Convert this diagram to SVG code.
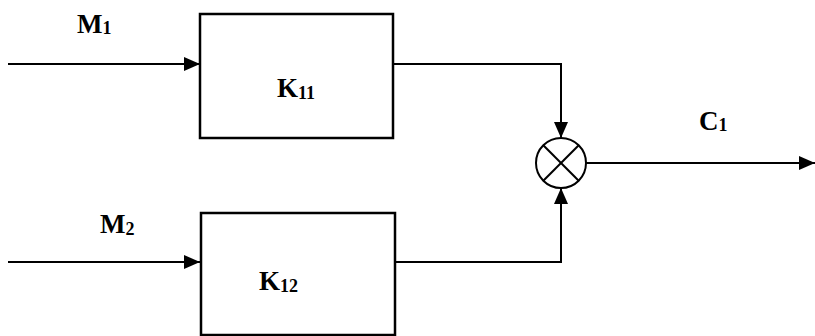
<svg xmlns="http://www.w3.org/2000/svg" width="815" height="336" viewBox="0 0 815 336">
<style>
.box{fill:none;stroke:#000;stroke-width:2.5}
.ln{fill:none;stroke:#000;stroke-width:2}
.lbl{font-family:"Liberation Serif",serif;font-weight:bold;fill:#000;font-size:27px}
.sub{font-size:18px}
</style>
<defs>
<marker id="ah" markerWidth="16" markerHeight="14" refX="16" refY="7" orient="auto" markerUnits="userSpaceOnUse">
<path d="M0,0 L16,7 L0,14 Z" fill="#000"/>
</marker>
</defs>
<rect width="815" height="336" fill="#fff"/>
<g id="connectors">
<line class="ln" x1="8" y1="64" x2="200" y2="64" marker-end="url(#ah)"/>
<line class="ln" x1="8" y1="262" x2="200" y2="262" marker-end="url(#ah)"/>
<polyline class="ln" points="393,64 561,64 561,138" marker-end="url(#ah)"/>
<polyline class="ln" points="395,262 561,262 561,188" marker-end="url(#ah)"/>
<line class="ln" x1="586" y1="163" x2="815" y2="163" marker-end="url(#ah)"/>
</g>
<g id="K11">
<rect class="box" x="200" y="14" width="193" height="124"/>
<text class="lbl" x="277" y="97">K<tspan class="sub" dy="2">11</tspan></text>
</g>
<g id="K12">
<rect class="box" x="201" y="213" width="194" height="122"/>
<text class="lbl" x="259" y="290">K<tspan class="sub" dy="2">12</tspan></text>
</g>
<g id="mult">
<circle class="ln" cx="561" cy="163" r="25"/>
<line class="ln" x1="543.3" y1="145.3" x2="578.7" y2="180.7"/>
<line class="ln" x1="578.7" y1="145.3" x2="543.3" y2="180.7"/>
</g>
<g id="labels">
<text class="lbl" x="77" y="33">M<tspan class="sub" dy="1">1</tspan></text>
<text class="lbl" x="100" y="233">M<tspan class="sub" dy="2">2</tspan></text>
<text class="lbl" x="699" y="130">C<tspan class="sub" dy="1">1</tspan></text>
</g>
</svg>
